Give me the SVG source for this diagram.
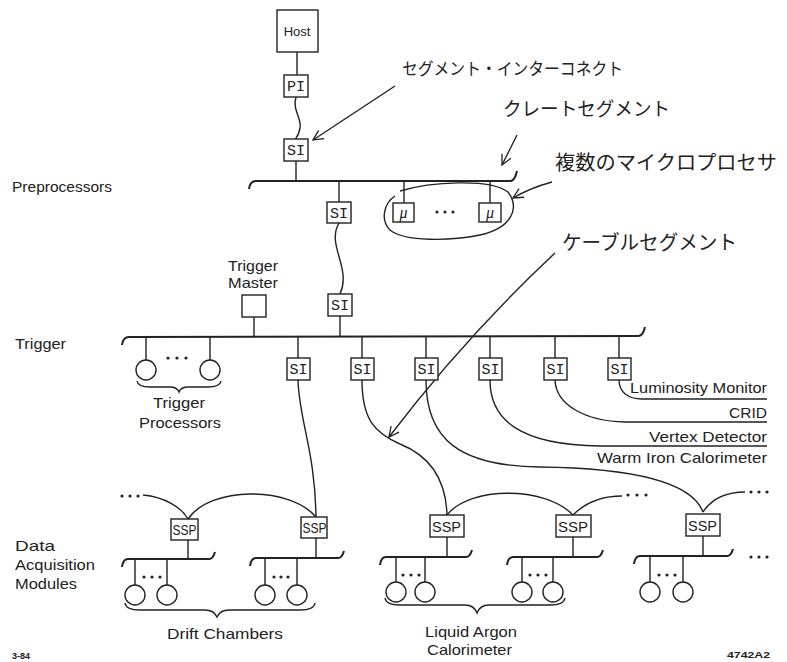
<svg xmlns="http://www.w3.org/2000/svg" width="787" height="662" viewBox="0 0 787 662">
<defs>
<marker id="ah" viewBox="0 0 12 12" refX="11" refY="6" markerWidth="12" markerHeight="12" markerUnits="userSpaceOnUse" orient="auto"><path d="M1,1 L11,6 L1,11" fill="none" stroke="#222" stroke-width="1.3"/></marker>
</defs>
<style>
.ln{fill:none;stroke:#222;stroke-width:1.4}
.bus{fill:none;stroke:#222;stroke-width:2}
.box{fill:#fff;stroke:#222;stroke-width:1.4}
.lbl{font-family:"Liberation Sans",Arial,sans-serif;font-size:15px;fill:#222}
.si{font-family:"Liberation Mono","DejaVu Sans Mono",monospace;font-size:15px;fill:#222;text-anchor:middle}
.ssp{font-family:"Liberation Sans",Arial,sans-serif;font-size:14px;fill:#222}
.mu{font-family:"Liberation Serif",serif;font-style:italic;font-size:16px;fill:#222;text-anchor:middle}
.jp{font-family:"Noto Sans CJK JP",sans-serif;fill:#222}
.dot{fill:#222}
.sm{font-family:"Liberation Sans",Arial,sans-serif;font-size:9px;font-weight:bold;fill:#222}
</style>
<rect width="787" height="662" fill="#fff"/>

<g id="connectors">
  <path class="ln" d="M297,52 L297,75"/>
  <path class="ln" d="M296,97 C292,110 302,118 300,128 S296,136 296,139"/>
  <path class="ln" d="M296,161 L296,181"/>
  <path class="bus" d="M249,189 Q250,181 256,181 L511,181 Q515,180 517,171"/>
  <path class="ln" d="M339,181 L339,202 M404,181 L404,203 M490,181 L490,203"/>
  <path class="ln" d="M339,223 C326,245 352,268 340,294"/>
  <path class="ln" d="M340,316 L340,336 M254,317 L254,336"/>
  <path class="bus" d="M122,345 Q123,337 129,337 L638,336 Q643,336 645,327"/>
  <path class="ln" d="M146,337 L146,360 M210,337 L210,360"/>
  <path class="ln" d="M298,337 L298,358 M362,337 L362,358 M426,337 L426,358 M490,337 L490,358 M555,337 L555,358 M619,337 L619,358"/>
  <path class="ln" d="M619,380 C619,392 628,399 642,399 L767,399"/>
  <path class="ln" d="M555,380 C556,405 585,421 625,422 L767,422"/>
  <path class="ln" d="M490,380 C490,420 520,445 600,446 L767,446"/>
  <path class="ln" d="M426,380 C426,440 460,466 540,467 C620,468 690,478 703,512"/>
  <path class="ln" d="M362,380 C362,420 375,433 400,444 C430,456 446,480 447,515"/>
  <path class="ln" d="M298,380 C299,420 315,450 316,517"/>
  <path class="ln" d="M143,495 C165,497 182,508 188,519"/>
  <path class="ln" d="M188,519 C210,486 290,486 316,517"/>
  <path class="ln" d="M447,515 C470,486 545,486 573,515"/>
  <path class="ln" d="M573,515 C588,500 605,496 622,496"/>
  <path class="ln" d="M703,512 C713,497 728,492 745,492"/>
  <path class="ln" d="M188,540 L188,559 M316,538 L316,558 M447,537 L447,557 M573,537 L573,557 M703,536 L703,556"/>
  <path class="bus" d="M122,567 Q123,559 128,559 L209,559 Q213,559 215,552"/>
  <path class="bus" d="M250,566 Q251,558 256,558 L338,558 Q342,558 344,551"/>
  <path class="bus" d="M380,565 Q381,557 386,557 L466,557 Q470,557 472,550"/>
  <path class="bus" d="M507,565 Q508,557 513,557 L597,557 Q601,557 603,550"/>
  <path class="bus" d="M634,564 Q635,556 640,556 L727,556 Q731,556 733,549"/>
  <path class="ln" d="M135,559 L135,585 M167,559 L167,585 M265,558 L265,585 M297,558 L297,585 M396,557 L396,582 M425,557 L425,582 M522,557 L522,582 M553,557 L553,582 M650,556 L650,582 M683,556 L683,582"/>
  <path class="ln" d="M395,86 L313,140" marker-end="url(#ah)"/>
  <path class="ln" d="M517,135 L502,165" marker-end="url(#ah)"/>
  <path class="ln" d="M552,182 Q530,188 513,198" marker-end="url(#ah)"/>
  <path class="ln" d="M555,253 Q465,337 389,437" marker-end="url(#ah)"/>
  <path class="ln" d="M137,381 Q138,387 150,387 L170,387 Q177,387 179,392 Q181,387 188,387 L208,387 Q220,387 221,381"/>
  <path class="ln" d="M125,603 Q126,610 140,610 L205,610 Q214,610 217,617 Q220,610 229,610 L300,610 Q314,610 315,603"/>
  <path class="ln" d="M385,598 Q386,605 400,605 L465,605 Q474,605 477,613 Q480,605 489,605 L550,605 Q564,605 565,598"/>
  <path class="ln" d="M400,191 C430,182 490,178 508,192 C520,208 512,228 480,235 C450,241 405,242 390,230 C380,220 384,203 395,196"/>
</g>

<g id="host"><rect class="box" x="277" y="10" width="41" height="42"/><text x="297" y="36" text-anchor="middle" style="font-family:'Liberation Sans',Arial,sans-serif;font-size:13px;fill:#222">Host</text></g>
<g id="pi"><rect class="box" x="284" y="75" width="24" height="22"/><text class="si" x="296" y="91">PI</text></g>
<g id="si-host"><rect class="box" x="284" y="139" width="24" height="22"/><text class="si" x="296" y="155">SI</text></g>
<g id="si-pre"><rect class="box" x="327" y="202" width="24" height="21"/><text class="si" x="339" y="218">SI</text></g>
<g id="mu1"><rect class="box" x="393" y="203" width="21" height="19"/><text class="mu" x="403.5" y="218">μ</text></g>
<g id="mu2"><rect class="box" x="479" y="203" width="22" height="19"/><text class="mu" x="490" y="218">μ</text></g>
<g id="mu-dots"><circle class="dot" cx="437" cy="212" r="1.6"/><circle class="dot" cx="445" cy="212" r="1.6"/><circle class="dot" cx="453" cy="212" r="1.6"/></g>
<g id="si-trig"><rect class="box" x="328" y="294" width="24" height="22"/><text class="si" x="340" y="310">SI</text></g>
<g id="trigger-master"><rect class="box" x="242" y="295" width="24" height="22"/>
  <text class="lbl" x="228" y="271" textLength="50" lengthAdjust="spacingAndGlyphs">Trigger</text><text class="lbl" x="228" y="288" textLength="50" lengthAdjust="spacingAndGlyphs">Master</text></g>
<g id="trigger-processors">
  <circle class="box" cx="146" cy="370" r="10"/><circle class="box" cx="210" cy="370" r="10"/>
  <circle class="dot" cx="168" cy="358" r="1.6"/><circle class="dot" cx="177" cy="358" r="1.6"/><circle class="dot" cx="186" cy="358" r="1.6"/>
  <text class="lbl" x="153" y="408" textLength="52" lengthAdjust="spacingAndGlyphs">Trigger</text><text class="lbl" x="139" y="428" textLength="82" lengthAdjust="spacingAndGlyphs">Processors</text></g>
<g id="si-row">
  <rect class="box" x="287" y="358" width="23" height="22"/><text class="si" x="298.5" y="374">SI</text>
  <rect class="box" x="351" y="358" width="23" height="22"/><text class="si" x="362.5" y="374">SI</text>
  <rect class="box" x="415" y="358" width="23" height="22"/><text class="si" x="426.5" y="374">SI</text>
  <rect class="box" x="479" y="358" width="23" height="22"/><text class="si" x="490.5" y="374">SI</text>
  <rect class="box" x="544" y="358" width="23" height="22"/><text class="si" x="555.5" y="374">SI</text>
  <rect class="box" x="608" y="358" width="23" height="22"/><text class="si" x="619.5" y="374">SI</text>
</g>
<g id="detectors">
  <text class="lbl" x="630" y="393" textLength="137" lengthAdjust="spacingAndGlyphs">Luminosity Monitor</text>
  <text class="lbl" x="729" y="418" textLength="38" lengthAdjust="spacingAndGlyphs">CRID</text>
  <text class="lbl" x="649" y="442" textLength="118" lengthAdjust="spacingAndGlyphs">Vertex Detector</text>
  <text class="lbl" x="597" y="463" textLength="170" lengthAdjust="spacingAndGlyphs">Warm Iron Calorimeter</text>
</g>
<g id="ssp1"><rect class="box" x="171" y="519" width="27" height="21"/><text class="ssp" x="172.5" y="535" textLength="24" lengthAdjust="spacingAndGlyphs">SSP</text></g>
<g id="ssp2"><rect class="box" x="301" y="517" width="26" height="21"/><text class="ssp" x="302.5" y="533" textLength="24" lengthAdjust="spacingAndGlyphs">SSP</text></g>
<g id="ssp3"><rect class="box" x="430" y="515" width="34" height="22"/><text class="ssp" x="432" y="532" textLength="29" lengthAdjust="spacingAndGlyphs">SSP</text></g>
<g id="ssp4"><rect class="box" x="556" y="515" width="35" height="22"/><text class="ssp" x="558" y="532" textLength="30" lengthAdjust="spacingAndGlyphs">SSP</text></g>
<g id="ssp5"><rect class="box" x="686" y="514" width="34" height="22"/><text class="ssp" x="688" y="531" textLength="29" lengthAdjust="spacingAndGlyphs">SSP</text></g>
<g id="modules">
  <circle class="box" cx="135" cy="595" r="10"/><circle class="box" cx="167" cy="595" r="10"/>
  <circle class="box" cx="265" cy="595" r="10"/><circle class="box" cx="297" cy="595" r="10"/>
  <circle class="box" cx="396" cy="592" r="10"/><circle class="box" cx="425" cy="592" r="10"/>
  <circle class="box" cx="522" cy="592" r="10"/><circle class="box" cx="553" cy="592" r="10"/>
  <circle class="box" cx="650" cy="592" r="10"/><circle class="box" cx="683" cy="592" r="10"/>
</g>
<g id="ellipses">
  <g class="dot">
  <circle cx="144" cy="577" r="1.6"/><circle cx="152" cy="577" r="1.6"/><circle cx="160" cy="577" r="1.6"/>
  <circle cx="274" cy="577" r="1.6"/><circle cx="281" cy="577" r="1.6"/><circle cx="288" cy="577" r="1.6"/>
  <circle cx="403" cy="575" r="1.6"/><circle cx="411" cy="575" r="1.6"/><circle cx="419" cy="575" r="1.6"/>
  <circle cx="530" cy="575" r="1.6"/><circle cx="538" cy="575" r="1.6"/><circle cx="546" cy="575" r="1.6"/>
  <circle cx="659" cy="575" r="1.6"/><circle cx="667" cy="575" r="1.6"/><circle cx="675" cy="575" r="1.6"/>
  <circle cx="122" cy="496" r="1.6"/><circle cx="130" cy="496" r="1.6"/><circle cx="138" cy="496" r="1.6"/>
  <circle cx="628" cy="495" r="1.6"/><circle cx="637" cy="495" r="1.6"/><circle cx="646" cy="495" r="1.6"/>
  <circle cx="751" cy="492" r="1.6"/><circle cx="759" cy="492" r="1.6"/><circle cx="767" cy="492" r="1.6"/>
  <circle cx="751" cy="557" r="1.6"/><circle cx="759" cy="557" r="1.6"/><circle cx="767" cy="557" r="1.6"/>
  </g>
</g>
<g id="group-labels">
  <text class="lbl" x="167" y="639" textLength="116" lengthAdjust="spacingAndGlyphs">Drift Chambers</text>
  <text class="lbl" x="425" y="637" textLength="92" lengthAdjust="spacingAndGlyphs">Liquid Argon</text>
  <text class="lbl" x="427" y="655" textLength="85" lengthAdjust="spacingAndGlyphs">Calorimeter</text>
</g>
<g id="level-labels">
  <text class="lbl" x="12" y="192" textLength="100" lengthAdjust="spacingAndGlyphs">Preprocessors</text>
  <text class="lbl" x="15" y="349" textLength="51" lengthAdjust="spacingAndGlyphs">Trigger</text>
  <text class="lbl" x="15" y="551" textLength="40" lengthAdjust="spacingAndGlyphs">Data</text>
  <text class="lbl" x="15" y="570" textLength="80" lengthAdjust="spacingAndGlyphs">Acquisition</text>
  <text class="lbl" x="15" y="589" textLength="62" lengthAdjust="spacingAndGlyphs">Modules</text>
</g>
<g id="annotations">
  <text class="jp" x="402" y="75" font-size="17" textLength="221" lengthAdjust="spacingAndGlyphs">セグメント・インターコネクト</text>
  <text class="jp" x="503" y="116" font-size="19" textLength="167" lengthAdjust="spacingAndGlyphs">クレートセグメント</text>
  <text class="jp" x="555" y="170" font-size="20" textLength="222" lengthAdjust="spacingAndGlyphs">複数のマイクロプロセサ</text>
  <text class="jp" x="562" y="250" font-size="20" textLength="175" lengthAdjust="spacingAndGlyphs">ケーブルセグメント</text>
</g>
<g id="footer">
  <text class="sm" x="12" y="659">3-84</text>
  <text class="sm" x="727" y="658" textLength="43" lengthAdjust="spacingAndGlyphs">4742A2</text>
</g>
</svg>
